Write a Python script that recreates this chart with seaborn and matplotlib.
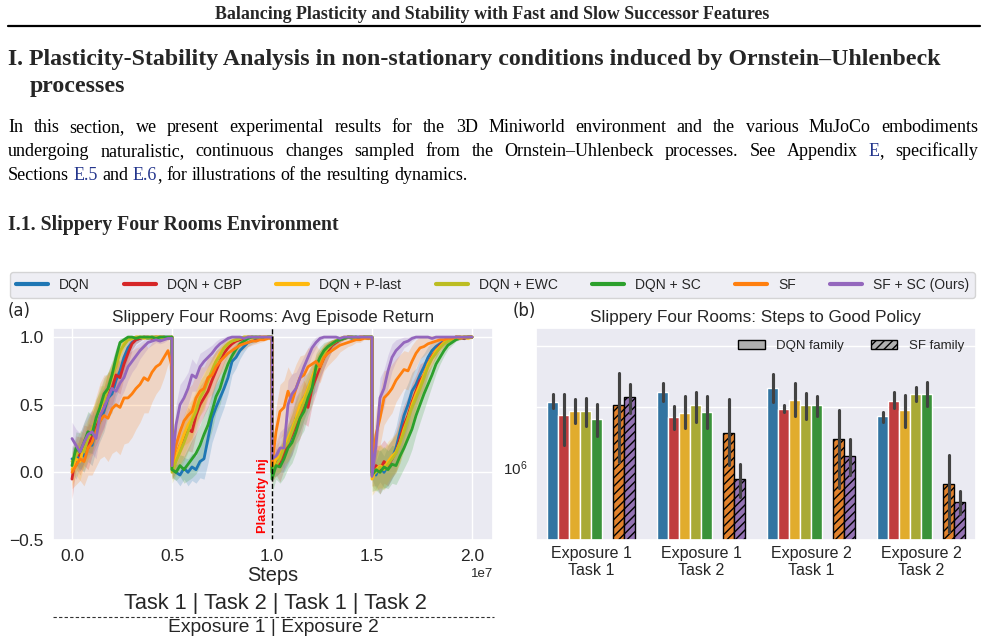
import re
import numpy as np
import pandas as pd
import matplotlib
matplotlib.use("Agg")
import matplotlib.pyplot as plt
import matplotlib.colors as mcolors
from matplotlib.lines import Line2D
from matplotlib.patches import Patch
from matplotlib.ticker import FixedLocator, NullFormatter, FixedFormatter
import seaborn as sns

# ---------------------------------------------------------------- data
METHODS = ["DQN", "DQN + CBP", "DQN + P-last", "DQN + EWC", "DQN + SC", "SF", "SF + SC (Ours)"]
LINE_COLORS = ["#1f77b4", "#d62728", "#ffb90f", "#bcbd22", "#2ca02c", "#ff7f0e", "#9467bd"]
SF_METHODS = ["SF", "SF + SC (Ours)"]
SEG_LEN = 5e6  # steps per task block

# mean return per task block (4 blocks: Task1, Task2, Task1, Task2), 26 samples each
DQN_MEAN = [
    [0.10, 0.05, 0.15, 0.12, 0.22, 0.20, 0.32, 0.38, 0.45, 0.55, 0.58, 0.68, 0.75, 0.85, 0.92, 0.96, 0.98, 0.99, 1.0, 0.99, 1.0, 1.0, 0.99, 1.0, 1.0, 1.0],
    [0.02, 0.0, -0.02, 0.03, 0.0, 0.04, 0.02, 0.08, 0.10, 0.25, 0.40, 0.48, 0.55, 0.62, 0.70, 0.82, 0.85, 0.90, 0.93, 0.96, 0.97, 0.98, 0.99, 0.99, 1.0, 1.0],
    [0.02, 0.05, 0.10, 0.12, 0.20, 0.28, 0.40, 0.45, 0.55, 0.60, 0.68, 0.72, 0.80, 0.85, 0.90, 0.94, 0.96, 0.98, 0.99, 1.0, 0.99, 1.0, 1.0, 1.0, 0.99, 1.0],
    [0.0, -0.02, 0.05, 0.0, 0.05, 0.10, 0.18, 0.30, 0.42, 0.50, 0.60, 0.65, 0.72, 0.78, 0.85, 0.90, 0.93, 0.95, 0.97, 0.98, 0.99, 1.0, 1.0, 0.99, 1.0, 1.0],
]
CBP_MEAN = [
    [-0.05, 0.15, 0.12, 0.20, 0.18, 0.28, 0.35, 0.42, 0.48, 0.60, 0.62, 0.72, 0.70, 0.80, 0.88, 0.95, 0.98, 0.99, 1.0, 1.0, 0.99, 1.0, 1.0, 1.0, 0.99, 1.0],
    [0.05, 0.12, 0.20, 0.25, 0.32, 0.30, 0.42, 0.50, 0.55, 0.60, 0.68, 0.75, 0.82, 0.88, 0.92, 0.95, 0.97, 0.98, 0.99, 1.0, 1.0, 0.99, 1.0, 1.0, 1.0, 1.0],
    [0.0, 0.08, 0.05, 0.15, 0.22, 0.28, 0.35, 0.40, 0.52, 0.48, 0.62, 0.70, 0.78, 0.85, 0.90, 0.94, 0.96, 0.98, 0.99, 1.0, 1.0, 0.99, 1.0, 1.0, 1.0, 1.0],
    [0.0, 0.05, 0.02, 0.08, 0.05, 0.10, 0.15, 0.25, 0.35, 0.42, 0.52, 0.60, 0.68, 0.72, 0.80, 0.86, 0.90, 0.94, 0.96, 0.98, 0.99, 1.0, 1.0, 0.99, 1.0, 1.0],
]
PLAST_MEAN = [
    [0.02, 0.10, 0.08, 0.20, 0.25, 0.30, 0.40, 0.45, 0.55, 0.62, 0.70, 0.80, 0.88, 0.95, 0.98, 0.99, 1.0, 1.0, 0.99, 1.0, 1.0, 1.0, 1.0, 0.99, 1.0, 1.0],
    [0.05, 0.12, 0.20, 0.28, 0.35, 0.40, 0.48, 0.55, 0.62, 0.68, 0.75, 0.82, 0.88, 0.92, 0.95, 0.97, 0.98, 0.99, 1.0, 1.0, 0.99, 1.0, 1.0, 1.0, 1.0, 1.0],
    [0.02, 0.10, 0.12, 0.20, 0.25, 0.32, 0.40, 0.50, 0.55, 0.62, 0.70, 0.78, 0.82, 0.88, 0.92, 0.95, 0.97, 0.99, 1.0, 1.0, 1.0, 0.99, 1.0, 1.0, 1.0, 1.0],
    [-0.05, 0.02, 0.05, 0.03, 0.08, 0.12, 0.15, 0.22, 0.32, 0.40, 0.50, 0.58, 0.65, 0.72, 0.80, 0.85, 0.90, 0.93, 0.96, 0.98, 0.99, 1.0, 1.0, 1.0, 0.99, 1.0],
]
EWC_MEAN = [
    [0.08, 0.12, 0.18, 0.15, 0.25, 0.32, 0.38, 0.50, 0.52, 0.62, 0.72, 0.78, 0.90, 0.94, 0.98, 0.99, 1.0, 1.0, 1.0, 0.99, 1.0, 1.0, 1.0, 1.0, 0.99, 1.0],
    [0.0, 0.08, 0.15, 0.22, 0.30, 0.38, 0.45, 0.55, 0.60, 0.68, 0.75, 0.82, 0.86, 0.92, 0.95, 0.97, 0.98, 0.99, 1.0, 1.0, 1.0, 1.0, 0.99, 1.0, 1.0, 1.0],
    [0.0, 0.05, 0.10, 0.18, 0.22, 0.30, 0.38, 0.45, 0.52, 0.60, 0.68, 0.75, 0.82, 0.88, 0.92, 0.95, 0.97, 0.98, 0.99, 1.0, 1.0, 1.0, 0.99, 1.0, 1.0, 1.0],
    [0.0, 0.0, 0.04, 0.02, 0.06, 0.10, 0.14, 0.22, 0.30, 0.40, 0.48, 0.55, 0.62, 0.70, 0.78, 0.84, 0.88, 0.92, 0.95, 0.97, 0.98, 0.99, 1.0, 1.0, 1.0, 1.0],
]
SC_MEAN = [
    [0.05, 0.18, 0.15, 0.22, 0.30, 0.28, 0.40, 0.48, 0.58, 0.62, 0.72, 0.85, 0.96, 0.98, 1.0, 1.0, 0.99, 1.0, 1.0, 1.0, 1.0, 0.99, 1.0, 1.0, 1.0, 1.0],
    [0.02, 0.0, 0.05, 0.02, 0.06, 0.10, 0.14, 0.20, 0.28, 0.35, 0.45, 0.56, 0.62, 0.72, 0.80, 0.86, 0.91, 0.95, 0.97, 0.99, 1.0, 1.0, 1.0, 0.99, 1.0, 1.0],
    [-0.05, 0.05, 0.04, 0.10, 0.18, 0.22, 0.30, 0.40, 0.45, 0.55, 0.62, 0.78, 0.85, 0.90, 0.93, 0.95, 0.97, 0.98, 0.99, 1.0, 1.0, 1.0, 0.99, 1.0, 1.0, 1.0],
    [-0.02, 0.02, 0.0, 0.04, 0.02, 0.06, 0.05, 0.12, 0.18, 0.25, 0.32, 0.42, 0.50, 0.58, 0.65, 0.72, 0.80, 0.85, 0.90, 0.94, 0.96, 0.98, 0.99, 1.0, 1.0, 1.0],
]
SF_MEAN = [
    [0.0, 0.05, 0.10, 0.08, 0.18, 0.22, 0.30, 0.38, 0.42, 0.40, 0.47, 0.50, 0.48, 0.55, 0.55, 0.58, 0.62, 0.65, 0.70, 0.68, 0.74, 0.78, 0.80, 0.85, 0.90, 0.78],
    [0.05, 0.20, 0.30, 0.38, 0.42, 0.45, 0.55, 0.60, 0.62, 0.70, 0.72, 0.78, 0.82, 0.85, 0.88, 0.90, 0.92, 0.94, 0.95, 0.96, 0.97, 0.97, 0.98, 0.98, 0.99, 0.99],
    [0.05, 0.30, 0.45, 0.48, 0.60, 0.52, 0.62, 0.70, 0.72, 0.78, 0.80, 0.82, 0.78, 0.85, 0.88, 0.90, 0.92, 0.94, 0.95, 0.96, 0.97, 0.98, 0.98, 0.99, 0.99, 0.99],
    [0.05, 0.28, 0.40, 0.55, 0.58, 0.62, 0.68, 0.72, 0.76, 0.75, 0.82, 0.88, 0.92, 0.93, 0.95, 0.96, 0.97, 0.98, 0.98, 0.99, 0.99, 1.0, 0.99, 1.0, 1.0, 1.0],
]
SFSC_MEAN = [
    [0.25, 0.20, 0.15, 0.22, 0.28, 0.30, 0.25, 0.42, 0.48, 0.55, 0.62, 0.60, 0.66, 0.70, 0.78, 0.82, 0.86, 0.90, 0.93, 0.96, 0.97, 0.98, 0.97, 0.98, 0.99, 0.99],
    [0.05, 0.35, 0.50, 0.55, 0.62, 0.72, 0.70, 0.78, 0.82, 0.85, 0.88, 0.92, 0.95, 0.97, 0.99, 1.0, 1.0, 1.0, 0.99, 1.0, 1.0, 1.0, 1.0, 1.0, 1.0, 1.0],
    [0.10, 0.12, 0.18, 0.18, 0.50, 0.58, 0.62, 0.70, 0.78, 0.85, 0.92, 0.96, 0.99, 1.0, 1.0, 1.0, 1.0, 0.99, 1.0, 1.0, 1.0, 1.0, 1.0, 1.0, 1.0, 1.0],
    [-0.03, 0.20, 0.55, 0.62, 0.75, 0.85, 0.90, 0.93, 0.96, 0.97, 0.99, 1.0, 1.0, 1.0, 1.0, 0.99, 1.0, 1.0, 1.0, 1.0, 1.0, 1.0, 1.0, 1.0, 1.0, 1.0],
]

# half-width of the shaded band
DQN_BAND = [
    [0.10, 0.10, 0.12, 0.12, 0.14, 0.15, 0.16, 0.15, 0.15, 0.14, 0.14, 0.12, 0.12, 0.10, 0.07, 0.05, 0.03, 0.02, 0.01, 0.01, 0.01, 0.01, 0.01, 0.01, 0.01, 0.01],
    [0.05, 0.06, 0.08, 0.08, 0.10, 0.10, 0.10, 0.12, 0.15, 0.18, 0.18, 0.17, 0.15, 0.14, 0.12, 0.10, 0.08, 0.06, 0.04, 0.03, 0.02, 0.02, 0.01, 0.01, 0.01, 0.01],
    [0.05, 0.08, 0.10, 0.12, 0.14, 0.15, 0.16, 0.15, 0.16, 0.14, 0.12, 0.12, 0.10, 0.08, 0.06, 0.04, 0.03, 0.02, 0.01, 0.01, 0.01, 0.01, 0.01, 0.01, 0.01, 0.01],
    [0.05, 0.10, 0.12, 0.12, 0.15, 0.15, 0.16, 0.18, 0.17, 0.16, 0.14, 0.12, 0.12, 0.10, 0.08, 0.06, 0.05, 0.04, 0.03, 0.02, 0.01, 0.01, 0.01, 0.01, 0.01, 0.01],
]
CBP_BAND = [
    [0.15, 0.12, 0.14, 0.15, 0.16, 0.16, 0.15, 0.16, 0.15, 0.14, 0.13, 0.12, 0.12, 0.10, 0.08, 0.05, 0.03, 0.02, 0.01, 0.01, 0.01, 0.01, 0.01, 0.01, 0.01, 0.01],
    [0.10, 0.12, 0.14, 0.15, 0.16, 0.15, 0.14, 0.14, 0.13, 0.12, 0.12, 0.10, 0.09, 0.07, 0.05, 0.04, 0.03, 0.02, 0.01, 0.01, 0.01, 0.01, 0.01, 0.01, 0.01, 0.01],
    [0.08, 0.10, 0.12, 0.13, 0.14, 0.15, 0.14, 0.15, 0.16, 0.14, 0.13, 0.12, 0.10, 0.08, 0.06, 0.04, 0.03, 0.02, 0.01, 0.01, 0.01, 0.01, 0.01, 0.01, 0.01, 0.01],
    [0.10, 0.15, 0.18, 0.16, 0.15, 0.14, 0.15, 0.16, 0.15, 0.14, 0.14, 0.12, 0.12, 0.10, 0.08, 0.06, 0.05, 0.04, 0.03, 0.02, 0.01, 0.01, 0.01, 0.01, 0.01, 0.01],
]
PLAST_BAND = [
    [0.12, 0.12, 0.14, 0.15, 0.15, 0.16, 0.14, 0.14, 0.13, 0.12, 0.10, 0.09, 0.07, 0.04, 0.02, 0.01, 0.01, 0.01, 0.01, 0.01, 0.01, 0.01, 0.01, 0.01, 0.01, 0.01],
    [0.10, 0.12, 0.14, 0.15, 0.15, 0.14, 0.13, 0.12, 0.12, 0.10, 0.09, 0.08, 0.06, 0.04, 0.03, 0.02, 0.02, 0.01, 0.01, 0.01, 0.01, 0.01, 0.01, 0.01, 0.01, 0.01],
    [0.08, 0.10, 0.12, 0.13, 0.14, 0.15, 0.14, 0.14, 0.13, 0.12, 0.10, 0.09, 0.08, 0.06, 0.04, 0.03, 0.02, 0.01, 0.01, 0.01, 0.01, 0.01, 0.01, 0.01, 0.01, 0.01],
    [0.12, 0.15, 0.16, 0.15, 0.15, 0.14, 0.14, 0.15, 0.14, 0.14, 0.13, 0.12, 0.10, 0.09, 0.07, 0.06, 0.05, 0.04, 0.03, 0.02, 0.01, 0.01, 0.01, 0.01, 0.01, 0.01],
]
EWC_BAND = [
    [0.10, 0.12, 0.13, 0.14, 0.15, 0.15, 0.14, 0.14, 0.12, 0.12, 0.10, 0.08, 0.06, 0.04, 0.02, 0.01, 0.01, 0.01, 0.01, 0.01, 0.01, 0.01, 0.01, 0.01, 0.01, 0.01],
    [0.08, 0.10, 0.12, 0.14, 0.15, 0.15, 0.14, 0.13, 0.12, 0.11, 0.10, 0.08, 0.07, 0.05, 0.04, 0.03, 0.02, 0.01, 0.01, 0.01, 0.01, 0.01, 0.01, 0.01, 0.01, 0.01],
    [0.06, 0.08, 0.10, 0.12, 0.14, 0.14, 0.15, 0.14, 0.13, 0.12, 0.11, 0.10, 0.08, 0.06, 0.04, 0.03, 0.02, 0.01, 0.01, 0.01, 0.01, 0.01, 0.01, 0.01, 0.01, 0.01],
    [0.10, 0.14, 0.16, 0.15, 0.15, 0.14, 0.14, 0.15, 0.14, 0.14, 0.13, 0.12, 0.11, 0.10, 0.08, 0.06, 0.05, 0.04, 0.03, 0.02, 0.01, 0.01, 0.01, 0.01, 0.01, 0.01],
]
SC_BAND = [
    [0.10, 0.12, 0.14, 0.15, 0.15, 0.14, 0.14, 0.13, 0.12, 0.12, 0.10, 0.07, 0.03, 0.02, 0.01, 0.01, 0.01, 0.01, 0.01, 0.01, 0.01, 0.01, 0.01, 0.01, 0.01, 0.01],
    [0.06, 0.06, 0.08, 0.10, 0.12, 0.14, 0.15, 0.15, 0.15, 0.14, 0.14, 0.12, 0.12, 0.10, 0.08, 0.06, 0.04, 0.03, 0.02, 0.01, 0.01, 0.01, 0.01, 0.01, 0.01, 0.01],
    [0.10, 0.10, 0.12, 0.14, 0.15, 0.15, 0.15, 0.14, 0.14, 0.13, 0.12, 0.10, 0.08, 0.06, 0.04, 0.03, 0.02, 0.01, 0.01, 0.01, 0.01, 0.01, 0.01, 0.01, 0.01, 0.01],
    [0.12, 0.15, 0.16, 0.15, 0.14, 0.14, 0.14, 0.15, 0.15, 0.16, 0.15, 0.14, 0.13, 0.12, 0.10, 0.08, 0.07, 0.05, 0.04, 0.03, 0.02, 0.01, 0.01, 0.01, 0.01, 0.01],
]
SF_BAND = [
    [0.12, 0.14, 0.16, 0.18, 0.20, 0.24, 0.26, 0.28, 0.30, 0.32, 0.33, 0.34, 0.35, 0.34, 0.33, 0.32, 0.30, 0.28, 0.26, 0.24, 0.22, 0.20, 0.18, 0.15, 0.10, 0.12],
    [0.08, 0.14, 0.16, 0.18, 0.20, 0.20, 0.18, 0.18, 0.16, 0.15, 0.14, 0.12, 0.10, 0.09, 0.08, 0.07, 0.06, 0.05, 0.04, 0.03, 0.03, 0.02, 0.02, 0.01, 0.01, 0.01],
    [0.10, 0.18, 0.20, 0.20, 0.18, 0.20, 0.18, 0.16, 0.15, 0.14, 0.12, 0.12, 0.12, 0.10, 0.09, 0.08, 0.07, 0.05, 0.04, 0.03, 0.03, 0.02, 0.02, 0.01, 0.01, 0.01],
    [0.10, 0.18, 0.20, 0.20, 0.18, 0.18, 0.16, 0.15, 0.14, 0.14, 0.12, 0.10, 0.08, 0.07, 0.06, 0.05, 0.04, 0.03, 0.02, 0.02, 0.01, 0.01, 0.01, 0.01, 0.01, 0.01],
]
SFSC_BAND = [
    [0.12, 0.12, 0.14, 0.15, 0.15, 0.16, 0.15, 0.14, 0.14, 0.13, 0.12, 0.12, 0.12, 0.10, 0.10, 0.08, 0.08, 0.06, 0.05, 0.04, 0.03, 0.02, 0.02, 0.02, 0.01, 0.01],
    [0.05, 0.15, 0.15, 0.14, 0.12, 0.12, 0.10, 0.10, 0.08, 0.07, 0.06, 0.05, 0.04, 0.03, 0.02, 0.01, 0.01, 0.01, 0.01, 0.01, 0.01, 0.01, 0.01, 0.01, 0.01, 0.01],
    [0.08, 0.10, 0.12, 0.15, 0.18, 0.15, 0.12, 0.10, 0.08, 0.07, 0.05, 0.04, 0.02, 0.01, 0.01, 0.01, 0.01, 0.01, 0.01, 0.01, 0.01, 0.01, 0.01, 0.01, 0.01, 0.01],
    [0.05, 0.12, 0.15, 0.14, 0.12, 0.10, 0.08, 0.06, 0.04, 0.03, 0.02, 0.01, 0.01, 0.01, 0.01, 0.01, 0.01, 0.01, 0.01, 0.01, 0.01, 0.01, 0.01, 0.01, 0.01, 0.01],
]
MEANS = [DQN_MEAN, CBP_MEAN, PLAST_MEAN, EWC_MEAN, SC_MEAN, SF_MEAN, SFSC_MEAN]
BANDS = [DQN_BAND, CBP_BAND, PLAST_BAND, EWC_BAND, SC_BAND, SF_BAND, SFSC_BAND]

# steps to good policy (rows follow METHODS, columns follow GROUPS)
GROUPS = ["Exposure 1\nTask 1", "Exposure 1\nTask 2", "Exposure 2\nTask 1", "Exposure 2\nTask 2"]
BAR_MEAN = [
    [2.12e6, 2.38e6, 2.49e6, 1.785e6],
    [1.82e6, 1.765e6, 1.95e6, 2.14e6],
    [1.905e6, 1.85e6, 2.15e6, 1.913e6],
    [1.905e6, 2.03e6, 2.04e6, 2.32e6],
    [1.74e6, 1.87e6, 2.04e6, 2.32e6],
    [2.04e6, 1.47e6, 1.375e6, 0.822e6],
    [2.24e6, 0.868e6, 1.13e6, 0.666e6],
]
BAR_LOW = [
    [1.97e6, 2.14e6, 2.12e6, 1.685e6],
    [1.29e6, 1.55e6, 1.877e6, 1.98e6],
    [1.65e6, 1.56e6, 1.785e6, 1.58e6],
    [1.60e6, 1.685e6, 1.74e6, 2.14e6],
    [1.43e6, 1.57e6, 1.80e6, 2.02e6],
    [1.055e6, 1.02e6, 0.782e6, 0.474e6],
    [1.855e6, 0.703e6, 0.912e6, 0.582e6],
]
BAR_HIGH = [
    [2.31e6, 2.62e6, 2.91e6, 1.877e6],
    [2.31e6, 2.02e6, 2.04e6, 2.36e6],
    [2.19e6, 2.25e6, 2.62e6, 2.29e6],
    [2.22e6, 2.38e6, 2.335e6, 2.50e6],
    [2.06e6, 2.26e6, 2.26e6, 2.65e6],
    [2.96e6, 2.19e6, 1.92e6, 1.15e6],
    [2.59e6, 1.03e6, 1.375e6, 0.753e6],
]
BAR_GRID = [2e6, 4e6]
BAR_LABEL_TICK = [1e6]

# page text
HEADER = "Balancing Plasticity and Stability with Fast and Slow Successor Features"
TITLE_1 = "I. Plasticity-Stability Analysis in non-stationary conditions induced by Ornstein\u2013Uhlenbeck"
TITLE_2 = "processes"
PARA = [
    "In this section, we present experimental results for the 3D Miniworld environment and the various MuJoCo embodiments",
    "undergoing naturalistic, continuous changes sampled from the Ornstein\u2013Uhlenbeck processes. See Appendix {E}, specifically",
    "Sections {E.5} and {E.6}, for illustrations of the resulting dynamics.",
]
SUBSECTION = "I.1. Slippery Four Rooms Environment"

# ---------------------------------------------------------------- style
W, H = 985, 644
sns.set_theme(style="darkgrid")
plt.rcParams["font.family"] = ["Liberation Sans", "DejaVu Sans"]
plt.rcParams["mathtext.default"] = "regular"
plt.rcParams["hatch.color"] = "black"
plt.rcParams["hatch.linewidth"] = 1.0
SERIF = ["Liberation Serif", "DejaVu Serif"]
LINK = "#23358C"

fig = plt.figure(figsize=(W / 100, H / 100), dpi=100)
renderer = fig.canvas.get_renderer()


def fx(px):
    return px / W


def fy(py):
    return 1 - py / H


def text_width(s, **kw):
    t = fig.text(0, 0, s, **kw)
    w = t.get_window_extent(renderer).width
    t.remove()
    return w


def fit_size(s, target, **kw):
    return 10 * target / text_width(s, fontsize=10, **kw)


def draw_words(line, x0, x1, base, size, justify, **kw):
    kw = dict(fontsize=size, family=SERIF, **kw)
    words = []
    for w in line.split(" "):
        segs = [(p.strip("{}"), LINK if p.startswith("{") else "black")
                for p in re.split(r"(\{[^}]*\})", w) if p]
        words.append((segs, sum(text_width(s, **kw) for s, _ in segs)))
    total = sum(w for _, w in words)
    if justify:
        gap = (x1 - x0 - total) / (len(words) - 1)
    else:
        gap = text_width("a a", **kw) - text_width("aa", **kw)
    x = x0
    for segs, _ in words:
        for s, c in segs:
            fig.text(fx(x), fy(base), s, color=c, va="baseline", ha="left", **kw)
            x += text_width(s, **kw)
        x += gap


# ---------------------------------------------------------------- page text
hs = fit_size(HEADER, 555, family=SERIF, weight="bold")
fig.text(fx(492), fy(19), HEADER, family=SERIF, weight="bold", fontsize=hs,
         ha="center", va="baseline")
fig.add_artist(Line2D([fx(8), fx(980)], [fy(25.5), fy(25.5)], color="black", lw=1.6,
                      transform=fig.transFigure))

ts = fit_size(TITLE_1, 930, family=SERIF, weight="bold")
fig.text(fx(8), fy(65), TITLE_1, family=SERIF, weight="bold", fontsize=ts, va="baseline")
fig.text(fx(29.5), fy(92), TITLE_2, family=SERIF, weight="bold", fontsize=ts, va="baseline")

ps = fit_size(PARA[2].replace("{", "").replace("}", ""), 459, family=SERIF)
draw_words(PARA[0], 8, 978, 132.5, ps, True)
draw_words(PARA[1], 8, 978, 156, ps, True)
draw_words(PARA[2], 8, 978, 180, ps, False)

ss = fit_size(SUBSECTION, 330, family=SERIF, weight="bold")
fig.text(fx(8), fy(230), SUBSECTION, family=SERIF, weight="bold", fontsize=ss, va="baseline")

# ---------------------------------------------------------------- (a) line plot
ax1 = fig.add_axes([fx(53), fy(540), (493 - 53) / W, (540 - 328) / H])
palette = dict(zip(METHODS, LINE_COLORS))

rows = []
for name, segs, bands in zip(METHODS, MEANS, BANDS):
    for k, (seg, band) in enumerate(zip(segs, bands)):
        steps = k * SEG_LEN + np.linspace(0, SEG_LEN, len(seg))
        m = np.asarray(seg)
        b = np.asarray(band)
        ax1.fill_between(steps, m - b, m + b, color=palette[name], alpha=0.2, lw=0)
        rows.extend((name, s, v) for s, v in zip(steps, seg))
df = pd.DataFrame(rows, columns=["method", "step", "value"])

sns.lineplot(data=df, x="step", y="value", hue="method", hue_order=METHODS,
             palette=palette, estimator=None, sort=False, linewidth=2,
             legend=False, ax=ax1)
ax1.axvline(2 * SEG_LEN, color="black", ls="--", lw=1)
ax1.text(0.985e7, -0.45, "Plasticity Inj", rotation=90, color="red",
         fontweight="bold", fontsize=9.3, ha="right", va="bottom")
ax1.set_xlim(-0.095e7, 2.105e7)
ax1.set_ylim(-0.5, 1.067)
ax1.set_yticks([-0.5, 0.0, 0.5, 1.0])
ax1.set_ylabel("")
ax1.set_xlabel("Steps", fontsize=14.4, labelpad=2)
ax1.set_title("Slippery Four Rooms: Avg Episode Return", fontsize=12.3, pad=4)
ax1.tick_params(axis="x", labelsize=12.5, length=0, pad=6.2)
ax1.tick_params(axis="y", labelsize=12.5, length=0, pad=6.5)
ax1.xaxis.get_offset_text().set_fontsize(9.5)

fig.text(fx(19), fy(311), "(a)", family="DejaVu Sans", fontsize=12, ha="center", va="center")
fig.text(fx(275.5), fy(603), "Task 1 | Task 2 | Task 1 | Task 2", fontsize=15.7,
         ha="center", va="center")
fig.add_artist(Line2D([fx(53), fx(494)], [fy(617), fy(617)], color="#333333", lw=0.8,
                      ls=(0, (3, 2)), transform=fig.transFigure))
fig.text(fx(273.5), fy(628), "Exposure 1 | Exposure 2", fontsize=13.9,
         ha="center", va="center")

# ---------------------------------------------------------------- (b) bar plot
ax2 = fig.add_axes([fx(536), fy(540), (976 - 536) / W, (540 - 328) / H])
SPACER = " "
bar_order = METHODS[:5] + [SPACER] + METHODS[5:]
bar_palette = dict(palette)
bar_palette[SPACER] = "#ffffff"

brows = []
for name, mean, lo, hi in zip(METHODS, BAR_MEAN, BAR_LOW, BAR_HIGH):
    for g, m, l, h in zip(GROUPS, mean, lo, hi):
        brows.extend([(name, g, l), (name, g, m), (name, g, h)])
bdf = pd.DataFrame(brows, columns=["method", "group", "steps"])

sns.barplot(data=bdf, x="group", y="steps", hue="method", order=GROUPS,
            hue_order=bar_order, palette=bar_palette, estimator="median",
            errorbar=lambda v: (v.min(), v.max()), log_scale=True,
            legend=False, width=0.8, ax=ax2)
ax2.set_yscale("log", nonpositive="clip")

sf_rgb = [mcolors.to_rgb(sns.desaturate(palette[m], 0.75)) for m in SF_METHODS]
for p in ax2.patches:
    fc = p.get_facecolor()[:3]
    if any(np.allclose(fc, c, atol=0.02) for c in sf_rgb):
        p.set_hatch("////")
        p.set_edgecolor("black")
        p.set_linewidth(1.0)

ax2.set_xlim(-0.5, 3.5)
ax2.set_ylim(4.3e5, 4.95e6)
ax2.yaxis.set_major_locator(FixedLocator(BAR_GRID))
ax2.yaxis.set_major_formatter(NullFormatter())
ax2.yaxis.set_minor_locator(FixedLocator(BAR_LABEL_TICK))
ax2.yaxis.set_minor_formatter(FixedFormatter([r"$\mathdefault{10^{6}}$"]))
ax2.tick_params(axis="y", which="minor", labelsize=11, pad=6, length=0)
ax2.tick_params(axis="y", which="major", length=0)
ax2.tick_params(axis="x", labelsize=11.5, length=0, pad=4)
ax2.set_xlabel("")
ax2.set_ylabel("")
ax2.set_title("Slippery Four Rooms: Steps to Good Policy", fontsize=12.3, pad=4)

fam_handles = [
    Patch(facecolor="#b0b0b0", edgecolor="black", label="DQN family"),
    Patch(facecolor="#b0b0b0", edgecolor="black", hatch="////", label="SF family"),
]
ax2.legend(handles=fam_handles, loc="upper right", frameon=False, ncol=2,
           fontsize=9.5, handletextpad=0.9, columnspacing=2.0)

fig.text(fx(524), fy(311), "(b)", family="DejaVu Sans", fontsize=12, ha="center", va="center")

# ---------------------------------------------------------------- shared legend
line_handles = [Line2D([], [], color=c, lw=3) for c in LINE_COLORS]
fig.legend(line_handles, METHODS, loc="center", ncol=7, mode="expand",
           bbox_to_anchor=(fx(10), fy(298), (975 - 10) / W, 26 / H),
           bbox_transform=fig.transFigure, fontsize=10, handlelength=2.3,
           borderaxespad=0, frameon=True)

fig.savefig("out.png", dpi=100)
